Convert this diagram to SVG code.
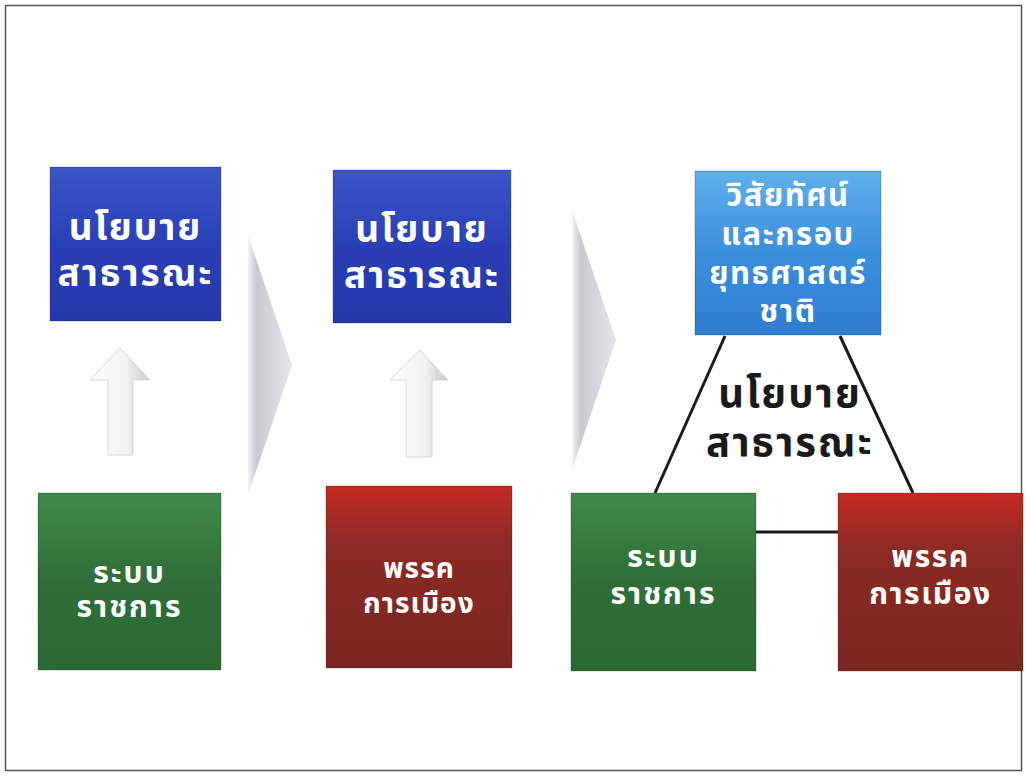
<svg xmlns="http://www.w3.org/2000/svg" width="1027" height="777" viewBox="0 0 1027 777">
<defs>
<linearGradient id="gBlue" x1="0" y1="0" x2="0" y2="1"><stop offset="0" stop-color="#3a56c8"/><stop offset="0.5" stop-color="#2a3fb6"/><stop offset="1" stop-color="#2338a8"/></linearGradient>
<linearGradient id="gLight" x1="0" y1="0" x2="0" y2="1"><stop offset="0" stop-color="#5fb0ee"/><stop offset="0.5" stop-color="#3a8fdc"/><stop offset="1" stop-color="#2e7ed2"/></linearGradient>
<linearGradient id="gGreen" x1="0" y1="0" x2="0" y2="1"><stop offset="0" stop-color="#3f8a48"/><stop offset="0.5" stop-color="#2f6e38"/><stop offset="1" stop-color="#2c6a34"/></linearGradient>
<linearGradient id="gRed" x1="0" y1="0" x2="0" y2="1"><stop offset="0" stop-color="#c42a22"/><stop offset="0.3" stop-color="#8e2a24"/><stop offset="1" stop-color="#7a2620"/></linearGradient>
<linearGradient id="gChev" x1="0" y1="0" x2="1" y2="0"><stop offset="0" stop-color="#f4f4f6"/><stop offset="0.2" stop-color="#c9c9cf"/><stop offset="1" stop-color="#e6e6ea"/></linearGradient>
<linearGradient id="gArrow" x1="0" y1="0" x2="1" y2="0"><stop offset="0" stop-color="#ffffff"/><stop offset="0.6" stop-color="#f2f2f2"/><stop offset="1" stop-color="#c8c8c8"/></linearGradient>
</defs>
<style>
.box{stroke:#1a1a1a;stroke-opacity:0.25;stroke-width:1}
.tw{font-family:"Noto Sans Thai","Tahoma","Noto Sans",sans-serif;font-weight:bold;fill:#ffffff;text-anchor:middle}
.tb{font-family:"Noto Sans Thai","Tahoma","Noto Sans",sans-serif;font-weight:bold;fill:#1a1a1a;text-anchor:middle}
.conn{stroke:#1a1a1a;stroke-width:3;fill:none}
</style>
<rect x="0" y="0" width="1027" height="777" fill="#ffffff"/>
<rect x="5.5" y="5.5" width="1016" height="765" fill="none" stroke="#555" stroke-width="1.5"/>

<g id="chevron1"><path d="M248 235 L292 365 L248 495 Z" fill="url(#gChev)"/></g>
<g id="chevron2"><path d="M572 210 L616 340 L572 470 Z" fill="url(#gChev)"/></g>

<g id="arrow1"><path d="M108 455 L108 380 L90 380 L120 348 L150 380 L133 380 L133 455 Z" fill="url(#gArrow)" stroke="#d8d8d8" stroke-width="1"/></g>
<g id="arrow2"><path d="M406 457 L406 380 L390 380 L420 350 L448 380 L432 380 L432 457 Z" fill="url(#gArrow)" stroke="#d8d8d8" stroke-width="1"/></g>

<g id="connectors">
<line class="conn" x1="655" y1="493" x2="725" y2="336"/>
<line class="conn" x1="840" y1="336" x2="913" y2="493"/>
<line class="conn" x1="756" y1="532" x2="838" y2="532"/>
</g>

<g id="policy1">
<rect class="box" x="50" y="167" width="171" height="154" fill="url(#gBlue)"/>
<text class="tw" x="135.5" y="240" font-size="37" letter-spacing="2">นโยบาย</text>
<text class="tw" x="135.5" y="286" font-size="37" letter-spacing="2">สาธารณะ</text>
</g>
<g id="policy2">
<rect class="box" x="333" y="170" width="178" height="153" fill="url(#gBlue)"/>
<text class="tw" x="422" y="242" font-size="37" letter-spacing="2">นโยบาย</text>
<text class="tw" x="422" y="288" font-size="37" letter-spacing="2">สาธารณะ</text>
</g>
<g id="vision">
<rect class="box" x="695" y="171" width="186" height="164" fill="url(#gLight)"/>
<text class="tw" x="788" y="206" font-size="31" letter-spacing="1.5">วิสัยทัศน์</text>
<text class="tw" x="788" y="245" font-size="31" letter-spacing="1.5">และกรอบ</text>
<text class="tw" x="788" y="284" font-size="31" letter-spacing="1.5">ยุทธศาสตร์</text>
<text class="tw" x="788" y="322" font-size="31" letter-spacing="1.5">ชาติ</text>
</g>
<g id="policy3">
<text class="tb" x="790" y="407" font-size="40" letter-spacing="2">นโยบาย</text>
<text class="tb" x="790" y="456" font-size="40" letter-spacing="2">สาธารณะ</text>
</g>
<g id="bureau1">
<rect class="box" x="38" y="493" width="183" height="177" fill="url(#gGreen)"/>
<text class="tw" x="129.5" y="583" font-size="30" letter-spacing="2">ระบบ</text>
<text class="tw" x="129.5" y="617" font-size="30" letter-spacing="2">ราชการ</text>
</g>
<g id="party2">
<rect class="box" x="326" y="486" width="186" height="182" fill="url(#gRed)"/>
<text class="tw" x="419" y="578" font-size="28" letter-spacing="1">พรรค</text>
<text class="tw" x="419" y="613" font-size="28" letter-spacing="1">การเมือง</text>
</g>
<g id="bureau3">
<rect class="box" x="571" y="493" width="185" height="178" fill="url(#gGreen)"/>
<text class="tw" x="663.5" y="567" font-size="30" letter-spacing="2">ระบบ</text>
<text class="tw" x="663.5" y="604" font-size="30" letter-spacing="2">ราชการ</text>
</g>
<g id="party3">
<rect class="box" x="838" y="493" width="185" height="178" fill="url(#gRed)"/>
<text class="tw" x="930.5" y="567" font-size="30" letter-spacing="1.5">พรรค</text>
<text class="tw" x="930.5" y="604" font-size="30" letter-spacing="1.5">การเมือง</text>
</g>
</svg>
